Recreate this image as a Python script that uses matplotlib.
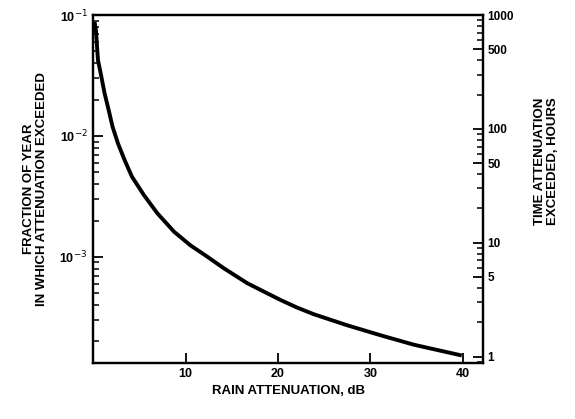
import matplotlib
matplotlib.use("Agg")
import matplotlib.pyplot as plt
from matplotlib.ticker import FixedLocator, NullFormatter, LogLocator

plt.rcParams['font.family'] = ['Liberation Sans', 'DejaVu Sans']

# Data
atten_db = [0.15, 0.30, 0.52, 0.89, 1.24, 1.68, 2.1, 2.68, 3.4, 4.2, 5.49, 6.94,
            8.74, 10.54, 12.35, 14.14, 16.67, 18.47, 20.27, 22.08, 23.87, 27.5,
            31.1, 34.7, 39.9]
fraction = [0.088, 0.0752, 0.0425, 0.0309, 0.0225, 0.0164, 0.01194, 0.00871,
            0.00634, 0.00461, 0.00325, 0.0023, 0.00162, 0.001245, 0.001005,
            0.000806, 0.000607, 0.000517, 0.000441, 0.000381, 0.000336,
            0.000272, 0.000225, 0.000188, 0.000153]

x_ticks = [10, 20, 30, 40]
left_ticks = [1e-1, 1e-2, 1e-3]
left_labels = ['10$^{-1}$', '10$^{-2}$', '10$^{-3}$']
right_ticks = [1, 5, 10, 50, 100, 500, 1000]
right_labels = ['1', '5', '10', '50', '100', '500', '1000']

fig = plt.figure(figsize=(5.75, 4.19), dpi=100)
ax = fig.add_axes([0.162, 0.134, 0.678, 0.830])

ax.plot(atten_db, fraction, color='black', lw=2.8, solid_capstyle='butt',
        solid_joinstyle='round')
ax.set_yscale('log')
ax.set_xlim(0, 42.2)
ax.set_ylim(1.33e-4, 0.1)

ax.set_xticks(x_ticks)
ax.set_xticklabels([str(t) for t in x_ticks], fontsize=9, fontweight='bold')
ax.yaxis.set_major_locator(FixedLocator(left_ticks))
ax.set_yticklabels(left_labels, fontsize=9, fontweight='bold')
ax.yaxis.set_minor_locator(LogLocator(base=10, subs=range(2, 10)))
ax.yaxis.set_minor_formatter(NullFormatter())

for s in ax.spines.values():
    s.set_linewidth(1.6)

ax.tick_params(axis='both', which='major', direction='in', length=7, width=1.3, pad=4)
ax.tick_params(axis='y', which='minor', direction='in', length=4, width=1.1)

ax.set_xlabel('RAIN ATTENUATION, dB', fontsize=9.5, fontweight='bold', labelpad=3)
ax.set_ylabel('FRACTION OF YEAR\nIN WHICH ATTENUATION EXCEEDED', fontsize=9.5,
              fontweight='bold', labelpad=8, linespacing=1.1)

ax2 = ax.twinx()
ax2.set_yscale('log')
ax2.set_ylim(0.88, 1000)
ax2.yaxis.set_major_locator(FixedLocator(right_ticks))
ax2.set_yticklabels(right_labels, fontsize=8.5, fontweight='bold')
ax2.yaxis.set_minor_locator(LogLocator(base=10, subs=range(2, 10)))
ax2.yaxis.set_minor_formatter(NullFormatter())
ax2.tick_params(axis='y', which='major', direction='in', length=7, width=1.3, pad=3)
ax2.tick_params(axis='y', which='minor', direction='in', length=4, width=1.1)
for s in ax2.spines.values():
    s.set_linewidth(1.6)
ax2.set_ylabel('TIME ATTENUATION\nEXCEEDED, HOURS', fontsize=9.5, fontweight='bold',
               labelpad=12, linespacing=1.1)
ax2.yaxis.set_label_coords(1.13, 0.58)

fig.savefig('out.png', dpi=100, facecolor='white')
